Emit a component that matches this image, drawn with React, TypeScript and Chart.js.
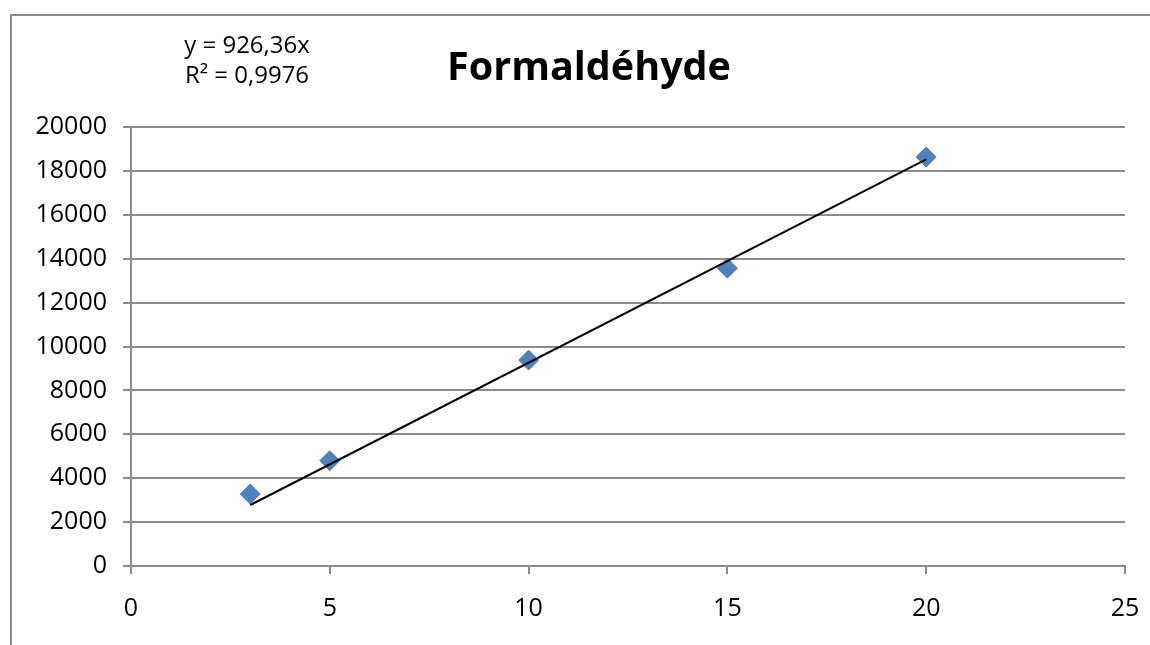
import React, { useEffect, useRef } from "react";
import { Chart, registerables } from "chart.js";

Chart.register(...registerables);

const concentrations = [3, 5, 10, 15, 20];
const areas = [3280, 4800, 9380, 13570, 18630];
const trendSlope = 926.36;
const equationLines = ["y = 926,36x", "R² = 0,9976"];
const chartTitle = "Formaldéhyde";
const xTicks = { min: 0, max: 25, step: 5 };
const yTicks = { min: 0, max: 20000, step: 2000 };

const FONT = "'Open Sans', 'DejaVu Sans', sans-serif";

export default function App() {
  const ref = useRef<HTMLCanvasElement | null>(null);

  useEffect(() => {
    if (!ref.current) return;
    const xMin = Math.min(...concentrations);
    const xMax = Math.max(...concentrations);
    const trend = [
      { x: xMin, y: trendSlope * xMin },
      { x: xMax, y: trendSlope * xMax },
    ];
    const points = concentrations.map((x, i) => ({ x, y: areas[i] }));

    const decor = {
      id: "decor",
      beforeDraw(chart: any) {
        const ctx = chart.ctx;
        ctx.save();
        ctx.strokeStyle = "#8a8a8a";
        ctx.lineWidth = 2;
        ctx.strokeRect(11, 15, 1400, 1000);
        ctx.restore();
      },
      afterDraw(chart: any) {
        const ctx = chart.ctx;
        ctx.save();
        ctx.fillStyle = "#000";
        ctx.textAlign = "center";
        ctx.textBaseline = "alphabetic";
        ctx.font = `24px ${FONT}`;
        ctx.fillText(equationLines[0], 247, 53);
        ctx.fillText(equationLines[1], 247, 83);
        ctx.font = `bold 39.5px ${FONT}`;
        ctx.fillText(chartTitle, 589, 80);
        ctx.restore();
      },
    };

    const chart = new Chart(ref.current, {
      type: "scatter",
      data: {
        datasets: [
          {
            label: "Linéaire",
            data: trend,
            showLine: true,
            borderColor: "#000",
            borderWidth: 2,
            pointRadius: 0,
            order: 0,
          },
          {
            label: "Formaldéhyde",
            data: points,
            pointStyle: "rectRot",
            pointRadius: 10,
            pointHoverRadius: 10,
            backgroundColor: "#4f81bd",
            borderColor: "#4a7ebb",
            borderWidth: 1,
            order: 1,
          },
        ],
      },
      options: {
        animation: false,
        responsive: false,
        maintainAspectRatio: false,
        layout: { padding: { left: 0, top: 127, right: 25, bottom: 0 } },
        plugins: {
          legend: { display: false },
          title: { display: false },
          tooltip: { enabled: false },
        },
        scales: {
          x: {
            type: "linear",
            min: xTicks.min,
            max: xTicks.max,
            ticks: {
              stepSize: xTicks.step,
              color: "#000",
              font: { family: FONT, size: 25 },
              padding: 20,
              maxRotation: 0,
              callback: (v: any) => String(v),
            },
            grid: {
              drawOnChartArea: false,
              drawTicks: true,
              tickLength: 8,
              color: "#8c8c8c",
              lineWidth: 2,
            },
            border: { display: true, color: "#8c8c8c", width: 2 },
            afterFit(scale: any) {
              scale.height = 79;
              scale.paddingLeft = 0;
              scale.paddingRight = 0;
            },
          },
          y: {
            type: "linear",
            min: yTicks.min,
            max: yTicks.max,
            ticks: {
              stepSize: yTicks.step,
              color: "#000",
              font: { family: FONT, size: 25 },
              padding: 16,
              callback: (v: any) => String(v),
            },
            grid: {
              drawTicks: true,
              tickLength: 8,
              color: "#8c8c8c",
              lineWidth: 2,
            },
            border: { display: true, color: "#8c8c8c", width: 2 },
            afterFit(scale: any) {
              scale.width = 131;
              scale.paddingTop = 0;
              scale.paddingBottom = 0;
            },
          },
        },
      },
      plugins: [decor],
    });
    return () => chart.destroy();
  }, []);

  return (
    <div style={{ position: "fixed", left: 0, top: 0, width: 1150, height: 645, background: "#fff" }}>
      <canvas ref={ref} width={1150} height={645} style={{ display: "block" }} />
    </div>
  );
}
